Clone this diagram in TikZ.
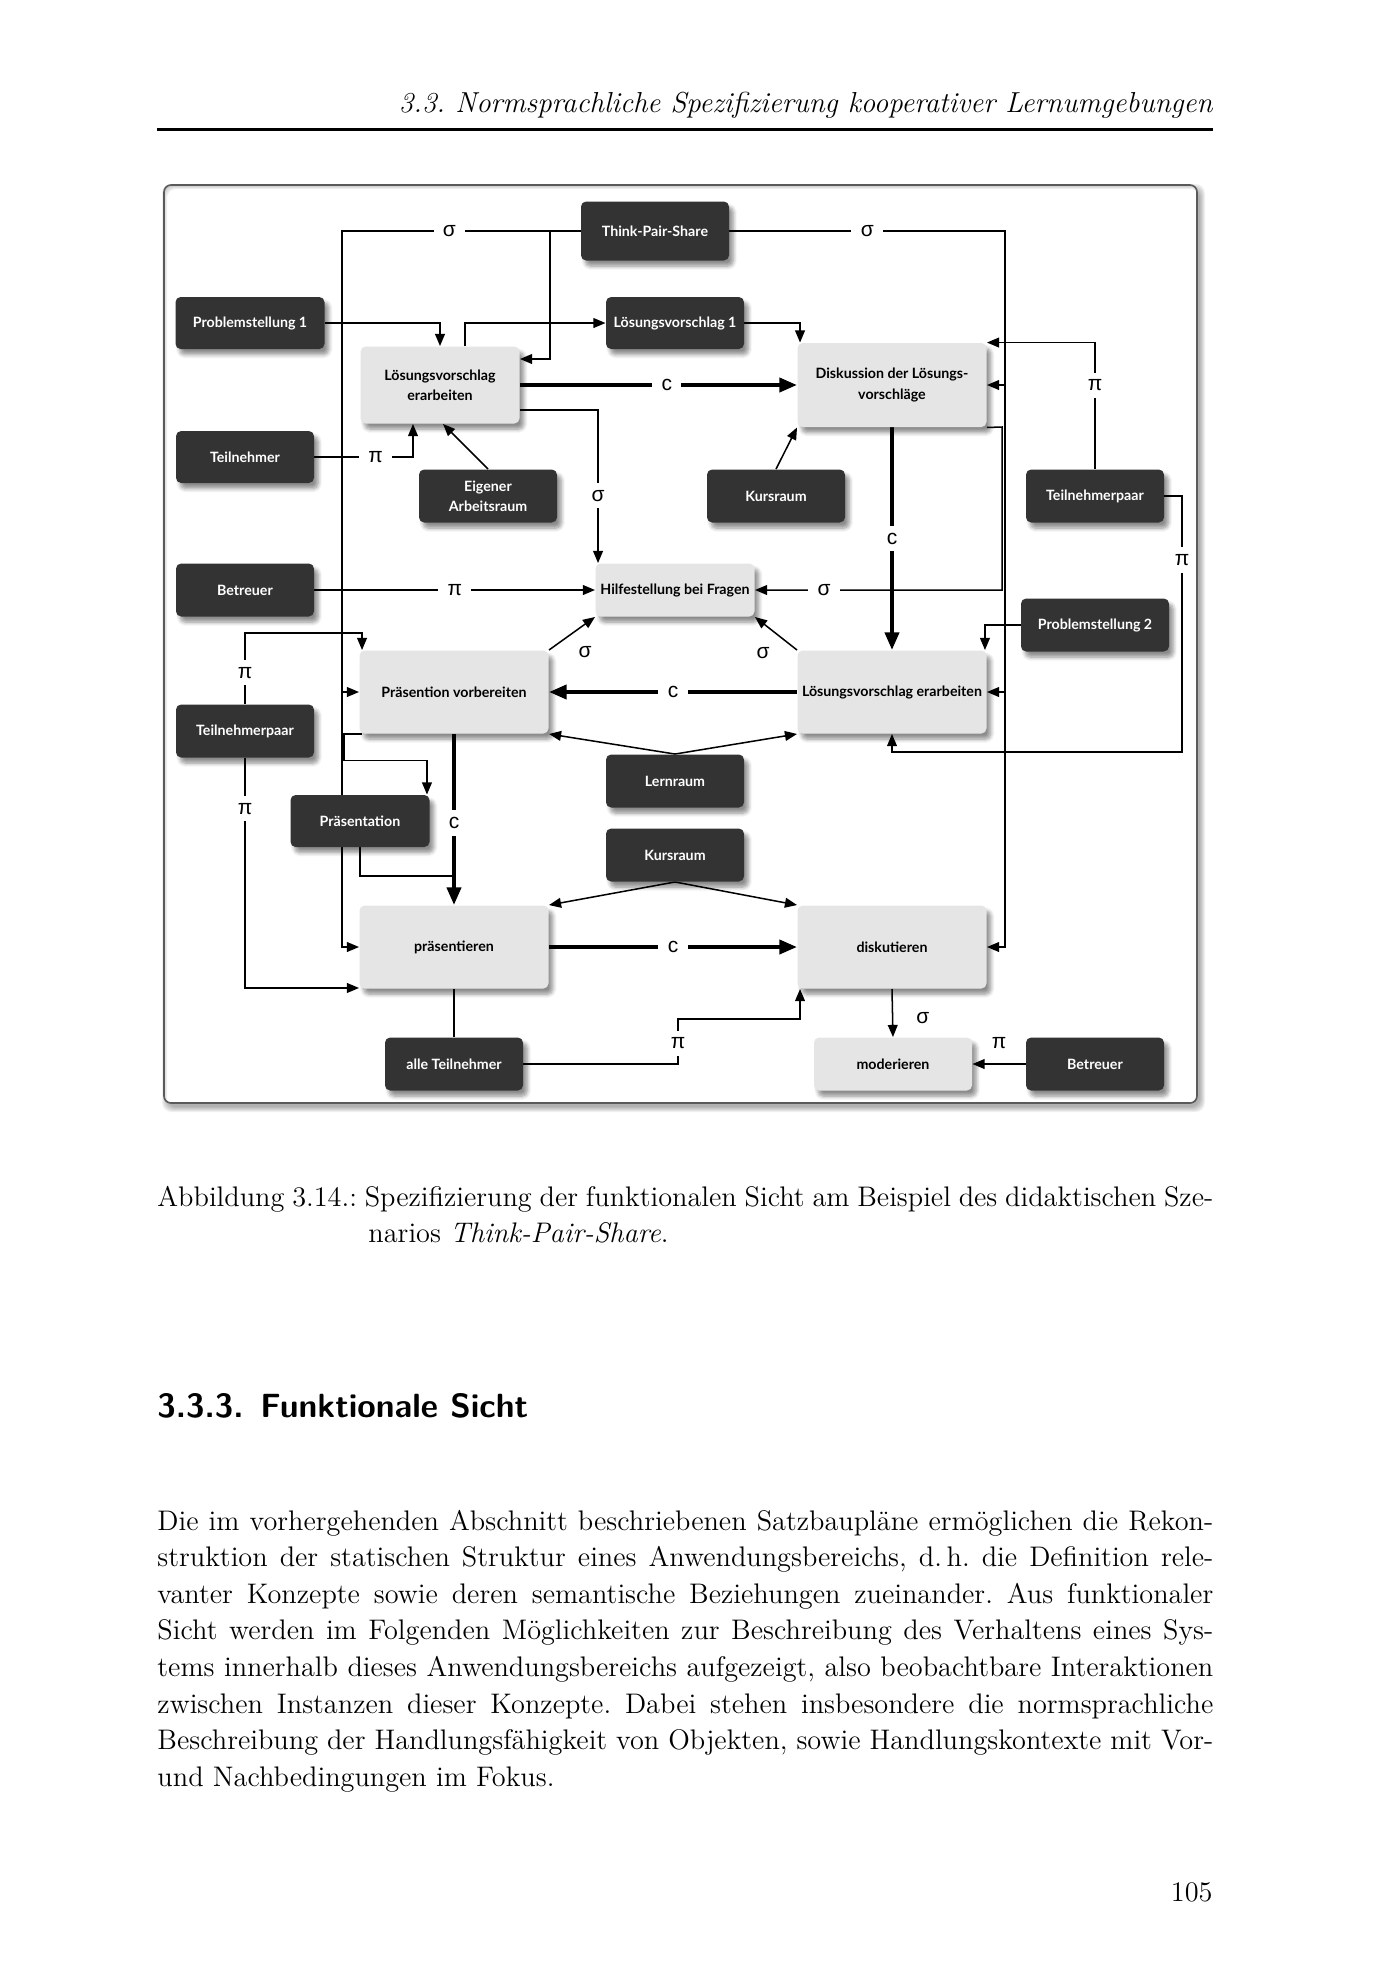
\documentclass[tikz,border=0pt]{standalone}
\usepackage{fontspec}
\newfontfamily\boxfont{Lato}
\newfontfamily\lblfont{Liberation Sans}
\usetikzlibrary{arrows.meta,calc,shadows.blur}
\definecolor{darkbox}{HTML}{333333}
\definecolor{lightbox}{HTML}{E5E5E5}
\definecolor{framecol}{HTML}{5A5A5A}
\pgfdeclarelayer{lines}
\pgfsetlayers{lines,main}
\tikzset{
  pxsize/.style 2 args={minimum width=#1*0.4293pt, minimum height=#2*0.4293pt},
  basebox/.style={rectangle, rounded corners=2.2pt, align=center, inner sep=1pt,
    font=\boxfont\bfseries\fontsize{6.1}{8.7}\selectfont,
    blur shadow={shadow xshift=1.8pt, shadow yshift=-2.4pt, shadow opacity=45, shadow blur steps=6}},
  darknode/.style={basebox, fill=darkbox, text=white},
  lightnode/.style={basebox, fill=lightbox, text=black},
  ln/.style={line width=0.65pt},
  thk/.style={line width=1.7pt},
  tip/.style={-{Triangle[length=5.2pt,width=4.2pt]}},
  bigtip/.style={-{Triangle[length=7.6pt,width=6pt]}},
  lblplain/.style={font=\lblfont\fontsize{9}{10}\selectfont, inner sep=1pt},
  lbl/.style={lblplain, fill=white, inner xsep=4pt, inner ysep=3pt},
  pagetext/.style={font=\fontsize{12.15}{15.7}\selectfont\frenchspacing, inner sep=0pt, anchor=base west},
}
\begin{document}
\begin{tikzpicture}[x=0.4293pt, y=-0.4293pt]
\useasboundingbox (0,0) rectangle (1386,1969);
% frame with soft shadow (ring only, interior untouched)
\foreach \s in {0,1,2,3,4,5}{
  \fill[black, opacity=0.06, even odd rule]
    [rounded corners=4pt] (167-\s,189-\s) rectangle (1200+\s,1107+\s)
    [rounded corners=3pt] (164,185) rectangle (1197,1103);
}
\draw[framecol, line width=0.7pt, rounded corners=3pt] (164,185) rectangle (1197,1103);

% page text
\node[pagetext, anchor=base east, font=\fontsize{12.4}{15.7}\selectfont\itshape] (hdr) at (1213,112)
  {3.3.\ Normsprachliche Spezifizierung kooperativer Lernumgebungen};
\draw[line width=1pt] (157,129.5) -- (1213,129.5);

\node[pagetext] (cap1) at (157,1206) {\makebox[453.3pt][s]{Abbildung 3.14.: Spezifizierung der funktionalen Sicht am Beispiel des didaktischen Sze-}};
\node[pagetext] (cap2) at (368,1242) {narios \textit{Think-Pair-Share}.};

\node[pagetext, font=\fontsize{14.4}{17}\selectfont\sffamily\bfseries] (sec) at (157,1417) {3.3.3.\enskip Funktionale Sicht};

\node[pagetext] (p1) at (157,1530) {\makebox[453.3pt][s]{Die im vorhergehenden Abschnitt beschriebenen Satzbaupläne ermöglichen die Rekon-}};
\node[pagetext] (p2) at (157,1566.6) {\makebox[453.3pt][s]{struktion der statischen Struktur eines Anwendungsbereichs, d.\,h. die Definition rele-}};
\node[pagetext] (p3) at (157,1603.2) {\makebox[453.3pt][s]{vanter Konzepte sowie deren semantische Beziehungen zueinander. Aus funktionaler}};
\node[pagetext] (p4) at (157,1639.8) {\makebox[453.3pt][s]{Sicht werden im Folgenden Möglichkeiten zur Beschreibung des Verhaltens eines Sys-}};
\node[pagetext] (p5) at (157,1676.4) {\makebox[453.3pt][s]{tems innerhalb dieses Anwendungsbereichs aufgezeigt, also beobachtbare Interaktionen}};
\node[pagetext] (p6) at (157,1713) {\makebox[453.3pt][s]{zwischen Instanzen dieser Konzepte. Dabei stehen insbesondere die normsprachliche}};
\node[pagetext] (p7) at (157,1749.6) {\makebox[453.3pt][s]{Beschreibung der Handlungsfähigkeit von Objekten, sowie Handlungskontexte mit Vor-}};
\node[pagetext] (p8) at (157,1786.2) {und Nachbedingungen im Fokus.};

\node[pagetext, anchor=base east] (pnum) at (1213,1901) {105};

% diagram nodes
\node[darknode, pxsize={148}{59}] (tps) at (655,231) {Think-Pair-Share};
\node[darknode, pxsize={149}{52}] (ps1) at (250,323) {Problemstellung 1};
\node[darknode, pxsize={138}{52}] (lv1) at (675,323) {Lösungsvorschlag 1};
\node[lightnode, pxsize={159}{77}] (lve) at (440,385) {Lösungsvorschlag\\erarbeiten};
\node[lightnode, pxsize={189}{84}] (dis) at (892,385) {Diskussion der Lösungs-\\vorschläge};
\node[darknode, pxsize={138}{52}] (tn) at (245,457) {Teilnehmer};
\node[darknode, pxsize={138}{53}] (ear) at (488,496) {Eigener\\Arbeitsraum};
\node[darknode, pxsize={138}{53}] (kr1) at (776,496) {Kursraum};
\node[darknode, pxsize={138}{53}] (tpr) at (1095,496) {Teilnehmerpaar};
\node[darknode, pxsize={138}{53}] (bt1) at (245,590) {Betreuer};
\node[lightnode, pxsize={159}{53}] (hf) at (675,590) {Hilfestellung bei Fragen};
\node[darknode, pxsize={148}{53}] (ps2) at (1095,625) {Problemstellung 2};
\node[lightnode, pxsize={189}{83}] (pv) at (454,692) {Präsention vorbereiten};
\node[lightnode, pxsize={189}{83}] (lve2) at (892,692) {Lösungsvorschlag erarbeiten};
\node[darknode, pxsize={138}{53}] (tpl) at (245,731) {Teilnehmerpaar};
\node[darknode, pxsize={138}{53}] (lr) at (675,781) {Lernraum};
\node[darknode, pxsize={139}{52}] (pr) at (360,821) {Präsentation};
\node[darknode, pxsize={138}{53}] (kr2) at (675,855) {Kursraum};
\node[lightnode, pxsize={189}{83}] (pt) at (454,947) {präsentieren};
\node[lightnode, pxsize={189}{83}] (dk) at (892,947) {diskutieren};
\node[darknode, pxsize={138}{53}] (at) at (454,1064) {alle Teilnehmer};
\node[lightnode, pxsize={158}{53}] (mod) at (893,1064) {moderieren};
\node[darknode, pxsize={138}{53}] (bt2) at (1095,1064) {Betreuer};

\coordinate (xL) at (342,231);
\coordinate (xA) at (550,231);
\coordinate (xR) at (1005,231);
\coordinate (xRb) at (1002,427);
\coordinate (tprc) at (1182,752);
\coordinate (atc) at (678,1019);

\begin{pgfonlayer}{lines}
  % Think-Pair-Share
  \draw[ln,tip] (tps.west) -- node[lbl,pos=0.55]{σ} (xL) |- (pt.west);
  \draw[ln,tip] (xL |- pv.west) -- (pv.west);
  \draw[ln,tip] (xA) |- ($(lve.east)+(0,-26)$);
  \draw[ln,tip] (tps.east) -- node[lbl,pos=0.5]{σ} (xR) |- (dk.east);
  \draw[ln,tip] (xR |- dis.east) -- (dis.east);
  \draw[ln,tip] (xR |- lve2.east) -- (lve2.east);
  % upper part
  \draw[ln,tip] (ps1.east) -| (lve.north);
  \draw[ln,tip] ($(lve.north)+(25,0)$) |- (lv1.west);
  \draw[ln,tip] (lv1.east) -| ($(dis.north west)+(3,0)$);
  \draw[thk,bigtip] (lve.east) -- node[lbl,pos=0.53]{c} (dis.west);
  \draw[ln,tip] ($(lve.east)+(0,25)$) -| node[lbl,pos=0.78]{σ} ($(hf.north west)+(3,0)$);
  \draw[ln,tip] (tn.east) -| node[lbl,pos=0.31]{π} ($(lve.south)+(-27,0)$);
  \draw[ln,tip] (ear.north) -- ($(lve.south)+(3,0)$);
  \draw[ln,tip] (tpr.north) |- node[lbl,pos=0.33]{π} (dis.north east);
  \draw[ln,tip] (kr1.north) -- (dis.south west);
  \draw[thk,bigtip] (dis.south) -- node[lbl]{c} (lve2.north);
  \draw[ln,tip] (dis.south east) -- (xRb) |- node[lbl,pos=0.86]{σ} (hf.east);
  \draw[ln,tip] (bt1.east) -- node[lbl]{π} (hf.west);
  % middle
  \draw[ln,tip] (pv.north east) -- (hf.south west);
  \node[lblplain] (s1) at (585,652) {σ};
  \draw[ln,tip] (lve2.north west) -- (hf.south east);
  \node[lblplain] (s2) at (763,653) {σ};
  \draw[ln,tip] (ps2.west) -| ($(lve2.north east)+(-2,0)$);
  \draw[thk,bigtip] (lve2.west) -- node[lbl]{c} (pv.east);
  \draw[ln,tip] (tpr.east) -| node[lbl,pos=0.625]{π} (tprc) -| (lve2.south);
  \draw[ln,tip] (tpl.north) |- node[lbl,pos=0.22]{π} ($(pv.north west)+(3,-17)$) -- ($(pv.north west)+(3,0)$);
  \draw[ln,tip] (tpl.south) |- node[lbl,pos=0.11]{π} ($(pt.south west)+(0,-1)$);
  \draw[ln,tip] ($(pv.south west)+(3,0)$) -- ++(-18,0) |- ($(pr.north east)+(-3,-34)$) -- ($(pr.north east)+(-3,0)$);
  \draw[ln] (pr.south) |- ($(pt.north)+(0,-29)$);
  \draw[thk,bigtip] (pv.south) -- node[lbl,pos=0.52]{c} (pt.north);
  \draw[ln,tip] (lr.north) -- (pv.south east);
  \draw[ln,tip] (lr.north) -- (lve2.south west);
  \draw[ln,tip] (kr2.south) -- (pt.north east);
  \draw[ln,tip] (kr2.south) -- (dk.north west);
  % lower
  \draw[thk,bigtip] (pt.east) -- node[lbl]{c} (dk.west);
  \draw[ln] (pt.south) -- (at.north);
  \draw[ln,tip] (at.east) -| node[lbl,pos=0.73]{π} (atc) -| ($(dk.south west)+(3,0)$);
  \draw[ln,tip] (dk.south) -- node[lblplain,midway,xshift=13pt,yshift=-2pt]{σ} (mod.north);
  \draw[ln,tip] (bt2.west) -- node[lblplain,midway,yshift=9pt]{π} (mod.east);
\end{pgfonlayer}
\end{tikzpicture}
\end{document}
